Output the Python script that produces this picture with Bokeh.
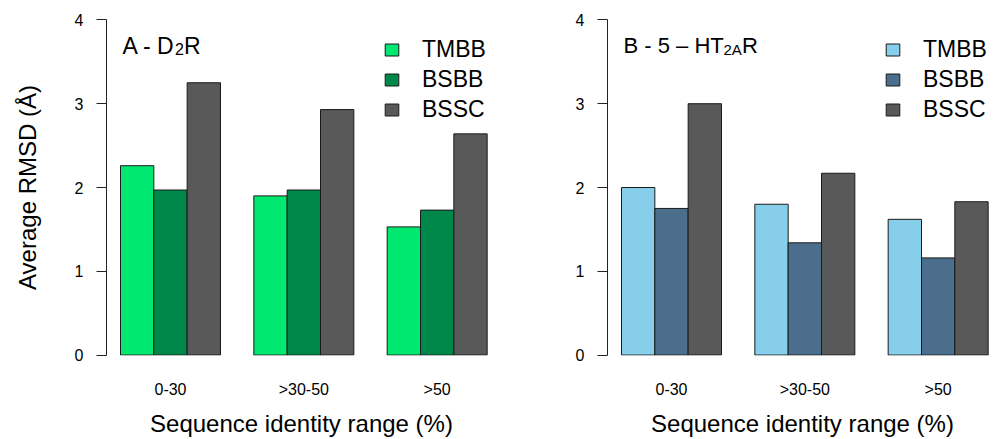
from bokeh.plotting import figure
from bokeh.models import (Range1d, FixedTicker, Legend, LegendItem, Label, ColumnDataSource)
from bokeh.layouts import row
from bokeh.embed import file_html
from bokeh.resources import INLINE

# ---- data ----
categories = ["0-30", ">30-50", ">50"]
series = ["TMBB", "BSBB", "BSSC"]

d2r_tmbb = [2.26, 1.90, 1.53]
d2r_bsbb = [1.97, 1.97, 1.73]
d2r_bssc = [3.25, 2.93, 2.64]

ht2a_tmbb = [2.00, 1.80, 1.62]
ht2a_bsbb = [1.75, 1.34, 1.16]
ht2a_bssc = [3.00, 2.17, 1.83]

y_ticks = [0, 1, 2, 3, 4]

green_colors = ["#00E86F", "#00884A", "#595959"]
blue_colors = ["#87CEEB", "#4A6E8B", "#595959"]

FONT = "Liberation Sans"


def make_panel(values, colors, title_parts, show_ylabel):
    p = figure(width=501, height=439, output_backend="svg", toolbar_location=None,
               x_range=Range1d(0.58, 12.28), y_range=Range1d(-0.005, 4.005),
               min_border_left=106, min_border_right=5, min_border_top=19,
               min_border_bottom=84)
    p.grid.visible = False
    p.outline_line_color = None
    p.background_fill_color = "white"
    p.border_fill_color = "white"

    nser = len(series)
    renderers = []
    for s, (name, vals) in enumerate(zip(series, values)):
        xs = [1 + g * (nser + 1) + s + 0.5 for g in range(len(categories))]
        src = ColumnDataSource(dict(x=xs, top=vals))
        r = p.vbar(x="x", top="top", bottom=0, width=1.0, source=src,
                   fill_color=colors[s], line_color="#1a1a1a", line_width=1)
        renderers.append((name, r))

    centers = [1 + g * (nser + 1) + nser / 2 for g in range(len(categories))]

    # x axis: labels only
    xa = p.xaxis[0]
    xa.ticker = FixedTicker(ticks=centers)
    xa.major_label_overrides = {c: lab for c, lab in zip(centers, categories)}
    xa.axis_line_color = None
    xa.major_tick_line_color = None
    xa.minor_tick_line_color = None
    xa.major_tick_out = 0
    xa.major_tick_in = 0
    xa.minor_tick_out = 0
    xa.major_label_standoff = 25
    xa.major_label_text_font = FONT
    xa.major_label_text_font_size = "16px"
    xa.major_label_text_color = "black"
    xa.axis_label = "Sequence identity range (%)"
    xa.axis_label_text_font = FONT
    xa.axis_label_text_font_size = "24px"
    xa.axis_label_text_font_style = "normal"
    xa.axis_label_text_color = "black"
    xa.axis_label_standoff = 9

    ya = p.yaxis[0]
    ya.ticker = FixedTicker(ticks=y_ticks)
    ya.major_tick_out = 10
    ya.major_tick_in = 0
    ya.minor_tick_line_color = None
    ya.minor_tick_out = 0
    ya.axis_line_color = "#222222"
    ya.major_tick_line_color = "#222222"
    ya.major_label_standoff = 13
    ya.major_label_text_font = FONT
    ya.major_label_text_font_size = "16px"
    ya.major_label_text_color = "black"
    if show_ylabel:
        ya.axis_label = "Average RMSD (Å)"
        ya.axis_label_text_font = FONT
        ya.axis_label_text_font_size = "24px"
        ya.axis_label_text_font_style = "normal"
        ya.axis_label_text_color = "black"
        ya.axis_label_standoff = 31

    legend = Legend(items=[LegendItem(label=n, renderers=[r]) for n, r in renderers],
                    location=(277, 232), glyph_width=17, glyph_height=15,
                    label_text_font=FONT, label_text_font_size="23px",
                    label_text_color="black",
                    label_standoff=22, spacing=3, padding=0, margin=0,
                    border_line_color=None, background_fill_alpha=0)
    p.add_layout(legend)

    # title pieces
    for text, xo, y, size in title_parts:
        p.add_layout(Label(x=1.06, y=y, x_offset=xo, text=text, text_font=FONT,
                           text_font_size=size, text_color="black",
                           text_baseline="alphabetic", text_align="left"))
    return p


left = make_panel([d2r_tmbb, d2r_bsbb, d2r_bssc], green_colors,
                  [("A - D", 0, 3.69, "23px"), ("2", 52.5, 3.65, "16px"), ("R", 61.5, 3.69, "23px")],
                  True)
right = make_panel([ht2a_tmbb, ht2a_bsbb, ht2a_bssc], blue_colors,
                   [("B - 5 \u2013 HT", 0, 3.69, "22px"), ("2A", 100, 3.65, "15px"), ("R", 118.5, 3.69, "22px")],
                   False)

layout = row(left, right)
open("out.html", "w").write(file_html(layout, INLINE))
